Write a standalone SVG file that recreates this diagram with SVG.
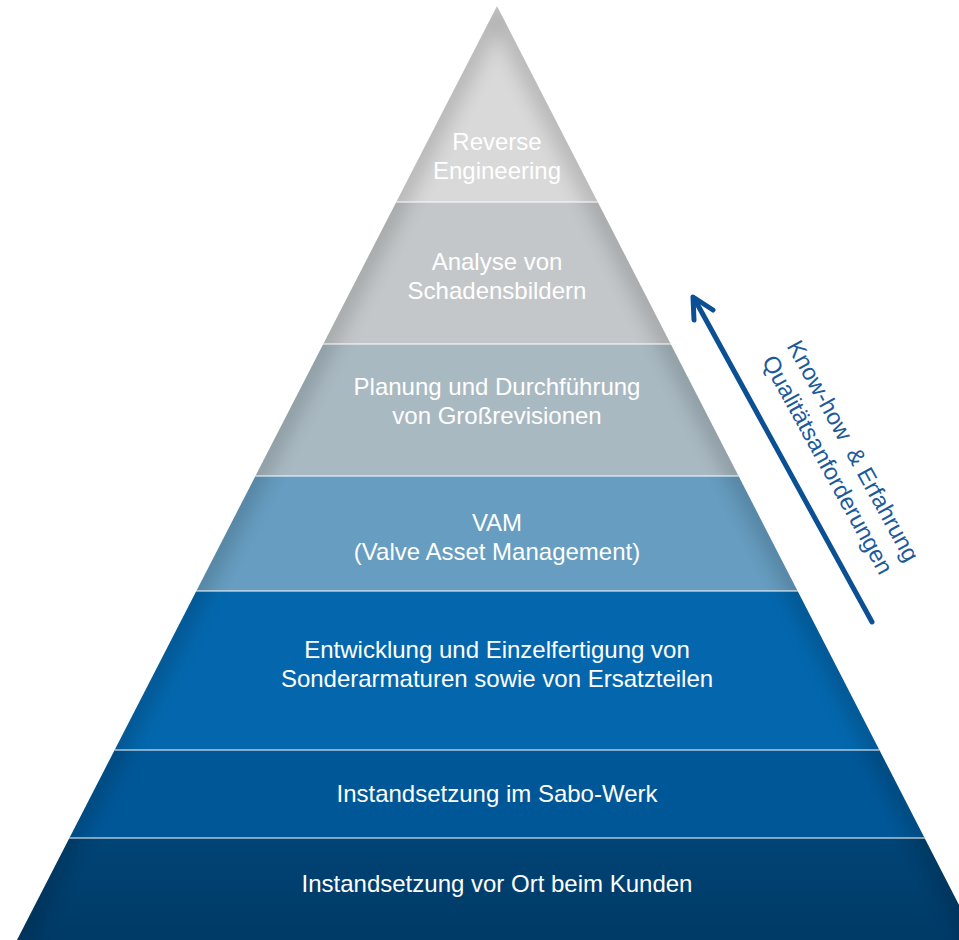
<svg xmlns="http://www.w3.org/2000/svg" width="959" height="940" viewBox="0 0 959 940">
  <style>
    .lbl { font-family: "Liberation Sans", Arial, sans-serif; font-size: 24px; fill: #ffffff; text-anchor: middle; }
    .side { font-family: "Liberation Sans", Arial, sans-serif; font-size: 23.5px; fill: #1b5a9c; text-anchor: middle; }
    .sep { stroke: #ffffff; stroke-opacity: 0.5; stroke-width: 2; }
    .arrow { fill: none; stroke: #0b4f95; stroke-width: 5; stroke-linecap: round; stroke-linejoin: round; }
  </style>
  <defs>
    <clipPath id="pyr">
      <polygon points="497,6 17,940 977,940"/>
    </clipPath>
    <filter id="blur" x="-50%" y="-50%" width="200%" height="200%">
      <feGaussianBlur stdDeviation="10"/>
    </filter>
    <linearGradient id="g7" x1="0" y1="0" x2="0" y2="1">
      <stop offset="0" stop-color="#004476"/>
      <stop offset="1" stop-color="#003a66"/>
    </linearGradient>
  </defs>
  <rect width="959" height="940" fill="#ffffff"/>
  <g clip-path="url(#pyr)">
    <g id="layer1"><rect x="0" y="0" width="959" height="202" fill="#d9d9d9"/></g>
    <g id="layer2"><rect x="0" y="202" width="959" height="142" fill="#c4c7c9"/></g>
    <g id="layer3"><rect x="0" y="344" width="959" height="132" fill="#a9b9c2"/></g>
    <g id="layer4"><rect x="0" y="476" width="959" height="115" fill="#669dc0"/></g>
    <g id="layer5"><rect x="0" y="591" width="959" height="159" fill="#0467ad"/></g>
    <g id="layer6"><rect x="0" y="750" width="959" height="88" fill="#005797"/></g>
    <g id="layer7"><rect x="0" y="838" width="959" height="102" fill="url(#g7)"/></g>
    <g filter="url(#blur)" opacity="0.18">
      <polyline points="497,6 17,940" fill="none" stroke="#000000" stroke-width="20"/>
      <polyline points="497,6 977,940" fill="none" stroke="#000000" stroke-width="20"/>
    </g>
    <g>
      <line class="sep" x1="0" y1="202" x2="959" y2="202"/>
      <line class="sep" x1="0" y1="344" x2="959" y2="344"/>
      <line class="sep" x1="0" y1="476" x2="959" y2="476"/>
      <line class="sep" x1="0" y1="591" x2="959" y2="591"/>
      <line class="sep" x1="0" y1="750" x2="959" y2="750"/>
      <line class="sep" x1="0" y1="838" x2="959" y2="838" stroke-opacity="0.4"/>
    </g>
  </g>
  <g>
    <text class="lbl" x="497" y="150">Reverse</text>
    <text class="lbl" x="497" y="179">Engineering</text>
    <text class="lbl" x="497" y="270">Analyse von</text>
    <text class="lbl" x="497" y="299">Schadensbildern</text>
    <text class="lbl" x="497" y="395">Planung und Durchführung</text>
    <text class="lbl" x="497" y="424">von Großrevisionen</text>
    <text class="lbl" x="497" y="531">VAM</text>
    <text class="lbl" x="497" y="560">(Valve Asset Management)</text>
    <text class="lbl" x="497" y="658">Entwicklung und Einzelfertigung von</text>
    <text class="lbl" x="497" y="687">Sonderarmaturen sowie von Ersatzteilen</text>
    <text class="lbl" x="497" y="802">Instandsetzung im Sabo-Werk</text>
    <text class="lbl" x="497" y="892">Instandsetzung vor Ort beim Kunden</text>
  </g>
  <g id="connectors">
    <line class="arrow" x1="872" y1="622" x2="695" y2="300"/>
    <polyline class="arrow" points="694,320 693,297 713,310"/>
  </g>
  <g id="sidelabel" transform="translate(840,458) rotate(61.2)">
    <text class="side" x="0" y="-7" xml:space="preserve">Know-how  &amp; Erfahrung</text>
    <text class="side" x="0" y="22">Qualitätsanforderungen</text>
  </g>
</svg>
